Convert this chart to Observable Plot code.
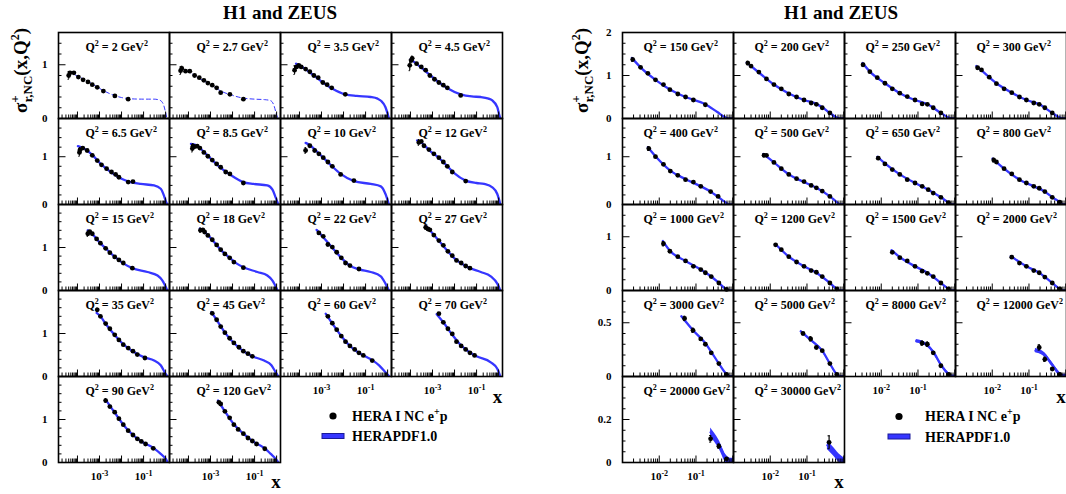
<!DOCTYPE html>
<html><head><meta charset="utf-8">
<script src="https://cdn.jsdelivr.net/npm/d3@7"></script>
<script src="https://cdn.jsdelivr.net/npm/@observablehq/plot@0.6"></script>
<style>
body{margin:0;background:#fff;}
#root{position:relative;width:1066px;height:494px;overflow:hidden;font-family:"Liberation Serif","Times New Roman",serif;font-weight:bold;}
#root .panel{position:absolute;}
#overlay{position:absolute;left:0;top:0;pointer-events:none;}
</style></head><body><div id="root"></div>
<script>
// ---------------- data ----------------
const leftQ2 = [2, 2.7, 3.5, 4.5, 6.5, 8.5, 10, 12, 15, 18, 22, 27, 35, 45, 60, 70, 90, 120];
const rightQ2 = [150, 200, 250, 300, 400, 500, 650, 800, 1000, 1200, 1500, 2000, 3000, 5000, 8000, 12000, 20000, 30000];
const leftRowYMax = [1.6, 1.8, 2, 2, 2];
const rightRowYMax = [2, 1.8, 1.6, 0.8, 0.4];
const leftRowYMajor = [[0, 1], [0, 1], [0, 1], [0, 1], [0, 1]];
const rightRowYMajor = [[0, 1, 2], [0, 1], [0, 1], [0, 0.5], [0, 0.2]];
const leftRowYMinorStep = [0.2, 0.2, 0.2, 0.2, 0.2];
const rightRowYMinorStep = [0.25, 0.2, 0.2, 0.1, 0.05];
const leftXDomain = [1.38e-5, 1.5];
const rightXDomain = [1e-3, 1.05];
const leftXTickLabels = [1e-3, 1e-1];
const rightXTickLabels = [1e-2, 1e-1];
const dashedQ2 = [2, 2.7];
// HERA I NC e+p measurements: [Q2, x, sigma_r, error]
const heraPoints = [
 [2,4.0e-5,0.80,0.07],[2,4.6e-5,0.85,0],[2,6.9e-5,0.85,0],[2,1.1e-4,0.77,0],[2,1.8e-4,0.72,0],[2,3.0e-4,0.68,0],[2,4.7e-4,0.63,0],[2,7.9e-4,0.58,0],[2,1.5e-3,0.51,0],[2,5.0e-3,0.42,0],[2,2.0e-2,0.36,0],
 [2.7,4.4e-5,0.89,0.07],[2.7,5.0e-5,0.93,0.04],[2.7,7.4e-5,0.88,0],[2.7,1.15e-4,0.88,0],[2.7,1.9e-4,0.80,0],[2.7,3.1e-4,0.76,0],[2.7,5.0e-4,0.71,0],[2.7,7.6e-4,0.66,0],[2.7,1.2e-3,0.62,0],[2.7,1.9e-3,0.57,0],[2.7,2.9e-3,0.48,0],[2.7,7.6e-3,0.45,0],[2.7,3.1e-2,0.36,0],
 [3.5,6.0e-5,0.90,0.08],[3.5,7.4e-5,0.96,0],[3.5,9.3e-5,0.99,0],[3.5,1.2e-4,0.96,0],[3.5,1.9e-4,0.92,0],[3.5,2.95e-4,0.87,0],[3.5,4.5e-4,0.80,0],[3.5,7.1e-4,0.76,0],[3.5,1.15e-3,0.67,0],[3.5,1.8e-3,0.63,0],[3.5,2.9e-3,0.57,0],[3.5,1.2e-2,0.45,0],
 [4.5,9.3e-5,0.99,0.10],[4.5,1.1e-4,1.08,0.04],[4.5,1.2e-4,1.12,0.04],[4.5,1.9e-4,1.02,0],[4.5,3.1e-4,0.96,0],[4.5,4.9e-4,0.90,0],[4.5,7.6e-4,0.80,0],[4.5,1.23e-3,0.73,0],[4.5,1.95e-3,0.67,0],[4.5,3.1e-3,0.62,0],[4.5,4.7e-3,0.57,0],[4.5,1.9e-2,0.43,0],
 [6.5,1.23e-4,1.09,0.08],[6.5,1.3e-4,1.14,0.05],[6.5,1.74e-4,1.18,0],[6.5,2.75e-4,1.13,0],[6.5,4.7e-4,1.03,0],[6.5,7.9e-4,0.92,0],[6.5,1.23e-3,0.83,0],[6.5,2.1e-3,0.75,0],[6.5,3.5e-3,0.68,0],[6.5,5.4e-3,0.63,0],[6.5,7.6e-3,0.57,0],[6.5,2.0e-2,0.47,0],[6.5,3.3e-2,0.48,0],
 [8.5,1.5e-4,1.17,0.07],[8.5,1.6e-4,1.22,0.05],[8.5,1.9e-4,1.21,0],[8.5,2.5e-4,1.22,0],[8.5,3.3e-4,1.18,0],[8.5,5.0e-4,1.09,0],[8.5,7.6e-4,1.01,0],[8.5,1.2e-3,0.93,0],[8.5,1.9e-3,0.85,0],[8.5,2.9e-3,0.78,0],[8.5,4.9e-3,0.68,0],[8.5,7.6e-3,0.64,0],[8.5,3.1e-2,0.45,0],
 [10,1.9e-4,1.13,0.06],[10,2.95e-4,1.23,0],[10,4.9e-4,1.13,0],[10,7.6e-4,1.06,0],[10,1.2e-3,0.98,0],[10,1.95e-3,0.89,0],[10,3.1e-3,0.80,0],[10,7.4e-3,0.63,0],[10,2.95e-2,0.50,0],
 [12,2.4e-4,1.30,0.06],[12,3.1e-4,1.32,0],[12,4.1e-4,1.23,0],[12,6.9e-4,1.15,0],[12,1.15e-3,1.06,0],[12,1.95e-3,0.98,0],[12,3.1e-3,0.89,0],[12,4.7e-3,0.80,0],[12,7.9e-3,0.68,0],[12,3.2e-2,0.49,0],
 [15,2.95e-4,1.32,0.06],[15,3.6e-4,1.37,0],[15,4.7e-4,1.32,0],[15,7.4e-4,1.20,0],[15,1.1e-3,1.10,0],[15,1.9e-3,0.98,0],[15,2.95e-3,0.88,0],[15,4.9e-3,0.78,0],[15,7.6e-3,0.71,0],[15,1.2e-2,0.64,0],[15,3.1e-2,0.52,0],
 [18,3.5e-4,1.40,0.05],[18,4.5e-4,1.41,0],[18,5.4e-4,1.36,0],[18,7.6e-4,1.28,0],[18,1.2e-3,1.18,0],[18,1.9e-3,1.06,0],[18,2.9e-3,0.95,0],[18,4.5e-3,0.85,0],[18,7.4e-3,0.76,0],[18,1.15e-2,0.66,0],[18,3.1e-2,0.53,0],
 [22,7.6e-4,1.34,0],[22,1.2e-3,1.26,0],[22,1.95e-3,1.07,0],[22,3.1e-3,1.01,0],[22,4.9e-3,0.89,0],[22,7.9e-3,0.76,0],[22,1.23e-2,0.64,0],[22,1.95e-2,0.58,0],[22,5.0e-2,0.50,0],
 [27,4.9e-4,1.47,0.05],[27,6.2e-4,1.43,0],[27,7.6e-4,1.41,0],[27,1.15e-3,1.29,0],[27,1.95e-3,1.16,0],[27,3.1e-3,1.05,0],[27,5.0e-3,0.91,0],[27,7.9e-3,0.81,0],[27,1.23e-2,0.70,0],[27,2.0e-2,0.64,0],[27,3.2e-2,0.57,0],[27,5.0e-2,0.52,0],
 [35,7.9e-4,1.55,0.04],[35,1.1e-3,1.40,0],[35,1.9e-3,1.23,0],[35,2.95e-3,1.11,0],[35,4.9e-3,0.97,0],[35,7.6e-3,0.85,0],[35,1.2e-2,0.74,0],[35,2.0e-2,0.66,0],[35,3.3e-2,0.59,0],[35,5.2e-2,0.51,0],[35,0.115,0.43,0],
 [45,1.2e-3,1.47,0],[45,1.9e-3,1.32,0],[45,2.9e-3,1.16,0],[45,4.5e-3,1.02,0],[45,7.4e-3,0.89,0],[45,1.15e-2,0.78,0],[45,1.95e-2,0.68,0],[45,3.1e-2,0.59,0],[45,5.0e-2,0.53,0],[45,7.9e-2,0.47,0],
 [60,1.95e-3,1.40,0],[60,3.1e-3,1.24,0],[60,4.9e-3,1.09,0],[60,7.9e-3,0.94,0],[60,1.23e-2,0.81,0],[60,1.95e-2,0.71,0],[60,3.2e-2,0.63,0],[60,5.0e-2,0.55,0],[60,7.9e-2,0.49,0],[60,0.2,0.37,0],
 [70,1.95e-3,1.46,0],[70,3.1e-3,1.26,0],[70,5.0e-3,1.11,0],[70,7.9e-3,0.99,0],[70,1.23e-2,0.81,0],[70,2.0e-2,0.71,0],[70,3.2e-2,0.63,0],[70,5.0e-2,0.55,0],[70,8.1e-2,0.49,0],
 [90,1.9e-3,1.44,0.04],[90,2.95e-3,1.30,0],[90,4.9e-3,1.17,0],[90,7.6e-3,1.02,0],[90,1.2e-2,0.88,0],[90,2.0e-2,0.74,0],[90,3.3e-2,0.64,0],[90,5.2e-2,0.55,0],[90,7.9e-2,0.49,0],[90,0.123,0.43,0],[90,0.275,0.33,0],
 [120,2.4e-3,1.40,0],[120,2.9e-3,1.36,0],[120,4.5e-3,1.19,0],[120,7.4e-3,1.04,0],[120,1.15e-2,0.88,0],[120,1.8e-2,0.77,0],[120,3.1e-2,0.67,0],[120,5.0e-2,0.57,0],[120,7.9e-2,0.50,0],[120,0.123,0.43,0],[120,0.29,0.32,0],
 [150,1.9e-3,1.37,0.04],[150,3.1e-3,1.19,0],[150,4.9e-3,1.05,0],[150,7.9e-3,0.90,0],[150,1.3e-2,0.79,0],[150,1.95e-2,0.67,0],[150,3.2e-2,0.57,0],[150,5.2e-2,0.50,0],[150,8.5e-2,0.43,0],[150,0.18,0.32,0],
 [200,2.45e-3,1.29,0.04],[200,3.0e-3,1.22,0],[200,4.9e-3,1.08,0],[200,7.9e-3,0.92,0],[200,1.26e-2,0.79,0],[200,2.0e-2,0.69,0],[200,3.2e-2,0.57,0],[200,5.2e-2,0.50,0],[200,8.3e-2,0.43,0],[200,0.13,0.36,0],[200,0.18,0.33,0],[200,0.26,0.25,0],[200,0.42,0.13,0],
 [250,3.2e-3,1.25,0.03],[250,4.9e-3,1.09,0],[250,7.8e-3,0.95,0],[250,1.26e-2,0.82,0],[250,2.0e-2,0.69,0],[250,3.2e-2,0.59,0],[250,5.1e-2,0.51,0],[250,8.3e-2,0.43,0],[250,0.13,0.34,0],[250,0.18,0.33,0],[250,0.26,0.25,0],[250,0.42,0.13,0],
 [300,4.0e-3,1.18,0.03],[300,5.1e-3,1.13,0],[300,8.3e-3,0.96,0],[300,1.3e-2,0.81,0],[300,2.1e-2,0.69,0],[300,3.4e-2,0.60,0],[300,5.5e-2,0.50,0],[300,8.5e-2,0.43,0],[300,0.135,0.36,0],[300,0.19,0.33,0],[300,0.27,0.25,0],[300,0.43,0.13,0],
 [400,5.2e-3,1.17,0.04],[400,7.9e-3,1.00,0],[400,1.3e-2,0.84,0],[400,2.0e-2,0.70,0],[400,3.2e-2,0.61,0],[400,5.2e-2,0.52,0],[400,8.5e-2,0.47,0],[400,0.135,0.38,0],[400,0.25,0.27,0],[400,0.40,0.17,0],
 [500,6.8e-3,1.03,0.03],[500,7.9e-3,1.03,0],[500,1.26e-2,0.88,0],[500,2.0e-2,0.75,0],[500,3.2e-2,0.63,0],[500,5.2e-2,0.54,0],[500,8.3e-2,0.48,0],[500,0.13,0.40,0],[500,0.18,0.35,0],[500,0.26,0.28,0],[500,0.42,0.17,0],
 [650,8.3e-3,0.97,0.03],[650,1.26e-2,0.85,0],[650,2.0e-2,0.73,0],[650,3.2e-2,0.63,0],[650,5.1e-2,0.52,0],[650,8.3e-2,0.45,0],[650,0.13,0.38,0],[650,0.19,0.31,0],[650,0.26,0.24,0],[650,0.42,0.15,0],[650,0.68,0.04,0],
 [800,1.1e-2,0.93,0.04],[800,1.3e-2,0.89,0],[800,2.1e-2,0.75,0],[800,3.4e-2,0.64,0],[800,5.5e-2,0.52,0],[800,8.5e-2,0.45,0],[800,0.135,0.38,0],[800,0.19,0.34,0],[800,0.27,0.27,0],[800,0.43,0.15,0],[800,0.69,0.05,0],
 [1000,1.3e-2,0.87,0.04],[1000,1.95e-2,0.73,0],[1000,3.2e-2,0.63,0],[1000,5.2e-2,0.55,0],[1000,8.5e-2,0.45,0],[1000,0.135,0.39,0],[1000,0.18,0.33,0],[1000,0.26,0.26,0],[1000,0.42,0.14,0],[1000,0.68,0.02,0],
 [1200,1.4e-2,0.85,0],[1200,2.0e-2,0.76,0],[1200,3.2e-2,0.63,0],[1200,5.2e-2,0.53,0],[1200,8.3e-2,0.45,0],[1200,0.13,0.37,0],[1200,0.18,0.34,0],[1200,0.26,0.26,0],[1200,0.42,0.14,0],[1200,0.65,0.03,0],
 [1500,2.0e-2,0.71,0],[1500,3.2e-2,0.61,0],[1500,5.1e-2,0.55,0],[1500,8.3e-2,0.45,0],[1500,0.13,0.36,0],[1500,0.18,0.32,0],[1500,0.26,0.26,0],[1500,0.42,0.14,0],[1500,0.68,0.03,0],
 [2000,3.4e-2,0.62,0],[2000,5.5e-2,0.51,0],[2000,8.5e-2,0.45,0],[2000,0.135,0.37,0],[2000,0.19,0.33,0],[2000,0.27,0.25,0],[2000,0.43,0.14,0],[2000,0.69,0.03,0],
 [3000,4.9e-2,0.54,0.02],[3000,8.3e-2,0.43,0.02],[3000,0.135,0.35,0],[3000,0.18,0.30,0],[3000,0.26,0.22,0],[3000,0.42,0.12,0],[3000,0.68,0.02,0],
 [5000,7.8e-2,0.40,0],[5000,0.126,0.35,0.02],[5000,0.18,0.27,0],[5000,0.26,0.24,0],[5000,0.42,0.12,0],[5000,0.65,0.02,0],
 [8000,0.13,0.31,0.02],[8000,0.18,0.30,0.02],[8000,0.26,0.22,0],[8000,0.42,0.10,0],[8000,0.69,0.02,0],
 [12000,0.19,0.27,0.025],[12000,0.27,0.16,0.02],[12000,0.43,0.07,0],[12000,0.69,0.02,0],
 [20000,0.25,0.11,0.015],[20000,0.42,0.076,0.01],[20000,0.68,0.017,0],
 [30000,0.40,0.094,0.03]
];
// HERAPDF1.0 prediction: [Q2, x, sigma_r]
const herapdfCurve = [
 [2,4e-5,0.87],[2,1e-4,0.79],[2,3e-4,0.69],[2,1e-3,0.56],[2,3e-3,0.46],[2,1e-2,0.39],[2,3e-2,0.365],[2,0.1,0.36],[2,0.3,0.36],[2,0.55,0.34],[2,0.78,0.27],[2,0.95,0.15],[2,1.15,0],
 [2.7,4.4e-5,0.95],[2.7,1e-4,0.87],[2.7,3e-4,0.75],[2.7,1e-3,0.63],[2.7,3e-3,0.51],[2.7,1e-2,0.43],[2.7,3e-2,0.38],[2.7,0.1,0.36],[2.7,0.3,0.35],[2.7,0.55,0.33],[2.7,0.76,0.24],[2.7,0.95,0.1],[2.7,1.15,0],
 [3.5,7e-5,1.02],[3.5,1e-4,0.99],[3.5,2e-4,0.91],[3.5,4.5e-4,0.80],[3.5,1.15e-3,0.67],[3.5,3e-3,0.56],[3.5,1.2e-2,0.45],[3.5,4e-2,0.42],[3.5,0.17,0.40],[3.5,0.35,0.37],[3.5,0.5,0.33],[3.5,0.8,0.21],[3.5,1.0,0.09],[3.5,1.15,0],
 [4.5,1e-4,1.10],[4.5,1.5e-4,1.05],[4.5,3e-4,0.95],[4.5,7.6e-4,0.81],[4.5,2e-3,0.67],[4.5,5e-3,0.56],[4.5,1.9e-2,0.45],[4.5,6e-2,0.41],[4.5,0.155,0.40],[4.5,0.35,0.37],[4.5,0.5,0.34],[4.5,0.87,0.21],[4.5,1.05,0.08],[4.5,1.2,0],
 [6.5,1.05e-4,1.22],[6.5,2e-4,1.17],[6.5,4.7e-4,1.04],[6.5,1.2e-3,0.84],[6.5,3.5e-3,0.67],[6.5,1e-2,0.54],[6.5,2.5e-2,0.47],[6.5,7.4e-2,0.43],[6.5,0.3,0.40],[6.5,0.6,0.33],[6.5,0.85,0.18],[6.5,1.0,0.08],[6.5,1.2,0],
 [8.5,1.3e-4,1.27],[8.5,2.5e-4,1.23],[8.5,5e-4,1.10],[8.5,1.2e-3,0.93],[8.5,3e-3,0.76],[8.5,8e-3,0.62],[8.5,3e-2,0.47],[8.5,9e-2,0.43],[8.5,0.38,0.40],[8.5,0.65,0.31],[8.5,0.9,0.15],[8.5,1.2,0],
 [10,1.9e-4,1.29],[10,3e-4,1.24],[10,5e-4,1.15],[10,1.2e-3,0.98],[10,3e-3,0.80],[10,7.4e-3,0.64],[10,3e-2,0.49],[10,0.17,0.43],[10,0.49,0.38],[10,0.8,0.22],[10,1.15,0],
 [12,2e-4,1.34],[12,3e-4,1.30],[12,7e-4,1.14],[12,2e-3,0.97],[12,5e-3,0.79],[12,1e-2,0.65],[12,3.2e-2,0.50],[12,0.1,0.45],[12,0.22,0.43],[12,0.52,0.36],[12,0.87,0.22],[12,1.2,0],
 [15,2.95e-4,1.40],[15,5e-4,1.30],[15,1e-3,1.12],[15,2e-3,0.97],[15,5e-3,0.78],[15,1.2e-2,0.63],[15,3.1e-2,0.52],[15,0.15,0.43],[15,0.43,0.35],[15,0.72,0.23],[15,1.2,0],
 [18,3.3e-4,1.44],[18,6e-4,1.34],[18,1.2e-3,1.18],[18,3e-3,0.94],[18,7.4e-3,0.76],[18,1.5e-2,0.63],[18,3.1e-2,0.54],[18,0.135,0.43],[18,0.38,0.35],[18,0.65,0.23],[18,1.1,0],
 [22,6e-4,1.41],[22,1.2e-3,1.24],[22,3e-3,1.0],[22,7.9e-3,0.76],[22,1.9e-2,0.58],[22,5e-2,0.49],[22,0.17,0.43],[22,0.49,0.33],[22,0.8,0.16],[22,1.15,0],
 [27,4.9e-4,1.51],[27,1e-3,1.33],[27,2e-3,1.15],[27,5e-3,0.91],[27,1.2e-2,0.71],[27,3.2e-2,0.57],[27,5e-2,0.52],[27,0.155,0.43],[27,0.44,0.33],[27,0.87,0.16],[27,1.2,0],
 [35,7.4e-4,1.48],[35,1.1e-3,1.40],[35,2e-3,1.21],[35,5e-3,0.96],[35,1.2e-2,0.75],[35,3.3e-2,0.58],[35,0.115,0.44],[35,0.3,0.37],[35,0.6,0.26],[35,1.0,0.06],[35,1.2,0],
 [45,1.1e-3,1.50],[45,2e-3,1.30],[45,4.5e-3,1.02],[45,1.15e-2,0.78],[45,3.1e-2,0.59],[45,7.9e-2,0.47],[45,0.27,0.37],[45,0.58,0.26],[45,0.9,0.10],[45,1.2,0],
 [60,1.55e-3,1.46],[60,3.1e-3,1.23],[60,7.9e-3,0.94],[60,1.95e-2,0.71],[60,5e-2,0.55],[60,0.2,0.38],[60,0.41,0.26],[60,0.8,0.10],[60,1.2,0],
 [70,1.55e-3,1.45],[70,3.1e-3,1.26],[70,7.9e-3,0.97],[70,2e-2,0.72],[70,5e-2,0.56],[70,0.1,0.47],[70,0.44,0.33],[70,0.87,0.18],[70,1.2,0],
 [90,1.9e-3,1.46],[90,4.9e-3,1.16],[90,1.2e-2,0.88],[90,3.3e-2,0.64],[90,8e-2,0.49],[90,0.275,0.34],[90,0.6,0.20],[90,1.0,0.09],[90,1.25,0],
 [120,2.2e-3,1.44],[120,4.5e-3,1.19],[120,1.15e-2,0.89],[120,3.1e-2,0.67],[120,8e-2,0.50],[120,0.29,0.33],[120,0.54,0.20],[120,0.9,0.09],[120,1.2,0],
 [150,1.8e-3,1.41],[150,3.1e-3,1.19],[150,7.9e-3,0.90],[150,2e-2,0.67],[150,5.2e-2,0.50],[150,0.18,0.33],[150,0.38,0.15],[150,0.65,0.02],[150,0.8,0],[150,1.05,0],
 [200,2.3e-3,1.30],[200,4.9e-3,1.07],[200,1.26e-2,0.79],[200,3.2e-2,0.58],[200,8.3e-2,0.43],[200,0.18,0.34],[200,0.26,0.26],[200,0.42,0.13],[200,0.65,0.02],[200,0.8,0],[200,1.05,0],
 [250,3.1e-3,1.29],[250,4.9e-3,1.09],[250,1.26e-2,0.82],[250,3.2e-2,0.59],[250,8.3e-2,0.43],[250,0.18,0.33],[250,0.42,0.13],[250,0.65,0.03],[250,0.8,0],[250,1.05,0],
 [300,3.7e-3,1.22],[300,5.1e-3,1.12],[300,1.3e-2,0.82],[300,3.4e-2,0.60],[300,8.5e-2,0.43],[300,0.19,0.33],[300,0.43,0.13],[300,0.69,0.02],[300,0.82,0],[300,1.05,0],
 [400,4.9e-3,1.20],[400,7.9e-3,1.01],[400,2e-2,0.71],[400,5.2e-2,0.53],[400,0.135,0.38],[400,0.25,0.27],[400,0.4,0.16],[400,0.6,0.06],[400,0.8,0],[400,1.05,0],
 [500,6.5e-3,1.06],[500,1.26e-2,0.88],[500,3.2e-2,0.63],[500,8.3e-2,0.47],[500,0.18,0.35],[500,0.42,0.17],[500,0.65,0.05],[500,0.8,0],[500,1.05,0],
 [650,7.9e-3,1.0],[650,1.26e-2,0.86],[650,3.2e-2,0.63],[650,8.3e-2,0.45],[650,0.19,0.31],[650,0.42,0.15],[650,0.68,0.04],[650,0.82,0],[650,1.05,0],
 [800,1.02e-2,0.96],[800,2.1e-2,0.75],[800,5.5e-2,0.52],[800,0.135,0.38],[800,0.27,0.27],[800,0.43,0.15],[800,0.69,0.05],[800,0.84,0],[800,1.05,0],
 [1000,1.26e-2,0.92],[1000,1.95e-2,0.74],[1000,5.2e-2,0.55],[1000,0.135,0.39],[1000,0.26,0.26],[1000,0.42,0.14],[1000,0.68,0.02],[1000,0.8,0],[1000,1.05,0],
 [1200,1.4e-2,0.86],[1200,3.2e-2,0.63],[1200,8.3e-2,0.45],[1200,0.18,0.33],[1200,0.42,0.14],[1200,0.65,0.03],[1200,0.8,0],[1200,1.05,0],
 [1500,1.9e-2,0.75],[1500,3.2e-2,0.62],[1500,8.3e-2,0.45],[1500,0.18,0.33],[1500,0.42,0.14],[1500,0.68,0.03],[1500,0.82,0],[1500,1.05,0],
 [2000,3.2e-2,0.64],[2000,8.5e-2,0.45],[2000,0.19,0.33],[2000,0.43,0.14],[2000,0.69,0.03],[2000,0.82,0],[2000,1.05,0],
 [3000,4e-2,0.56],[3000,8.3e-2,0.43],[3000,0.18,0.31],[3000,0.26,0.23],[3000,0.42,0.12],[3000,0.68,0.02],[3000,0.8,0],[3000,1.05,0],
 [5000,6.8e-2,0.42],[5000,0.126,0.34],[5000,0.26,0.24],[5000,0.42,0.12],[5000,0.65,0.02],[5000,0.8,0],[5000,1.05,0],
 [8000,9e-2,0.33],[8000,0.18,0.29],[8000,0.26,0.23],[8000,0.42,0.11],[8000,0.69,0.02],[8000,0.82,0],[8000,1.05,0],
 [12000,0.15,0.24],[12000,0.27,0.20],[12000,0.43,0.11],[12000,0.69,0.02],[12000,0.82,0],[12000,1.05,0],
 [20000,0.25,0.14],[20000,0.42,0.085],[20000,0.68,0.012],[20000,0.85,0],[20000,1.05,0],
 [30000,0.36,0.08],[30000,0.5,0.055],[30000,0.75,0.02],[30000,1.05,0]
];
// visible half-width of the HERAPDF1.0 uncertainty band: [Q2, halfWidth]
const bandHalfWidth = [[3000,0.008],[5000,0.01],[8000,0.015],[12000,0.02],[20000,0.02],[30000,0.02]];

// ---------------- drawing ----------------
const BLUE = "#3636ff";
const FONT = '"Liberation Serif","Times New Roman",serif';
const root = document.getElementById("root");
const NS = "http://www.w3.org/2000/svg";
const PW = 111, PH = 86;

function logTicks(domain) {
  const major = [], minor = [];
  for (let e = -6; e <= 1; e++) {
    for (let m = 1; m <= 9; m++) {
      const v = +(m * Math.pow(10, e)).toPrecision(6);
      if (v < domain[0] * 0.999 || v > domain[1] * 1.001) continue;
      (m === 1 ? major : minor).push(v);
    }
  }
  return {major, minor};
}

function span(t, s, attrs) {
  const e = document.createElementNS(NS, "tspan"); e.textContent = s;
  for (const k in attrs) e.setAttribute(k, attrs[k]); t.appendChild(e); return e;
}

// turn "10^-3" tick labels and "Q² = … GeV²" panel labels into raised superscripts
function superscripts(svg) {
  svg.querySelectorAll("text").forEach(t => {
    const s = t.textContent;
    let m = /^10\^(-?\d+)$/.exec(s);
    if (m) {
      t.textContent = "";
      span(t, "10", {});
      span(t, m[1], {dy: -4.5, "font-size": 8});
      return;
    }
    m = /^Q² = (.+) GeV²$/.exec(s);
    if (m) {
      t.textContent = "";
      span(t, "Q", {});
      span(t, "2", {dy: -5, "font-size": 8});
      span(t, ` = ${m[1]} GeV`, {dy: 5});
      span(t, "2", {dy: -5, "font-size": 8});
    }
  });
}

function drawPanel(isLeft, idx) {
  const q2 = (isLeft ? leftQ2 : rightQ2)[idx];
  const col = idx % 4, row = Math.floor(idx / 4);
  const n = (isLeft ? leftQ2 : rightQ2).length;
  const lastInColumn = idx + 4 >= n;
  const yMax = (isLeft ? leftRowYMax : rightRowYMax)[row];
  const yMajor = (isLeft ? leftRowYMajor : rightRowYMajor)[row];
  const yStep = (isLeft ? leftRowYMinorStep : rightRowYMinorStep)[row];
  const yMinor = d3.range(1, Math.round(yMax / yStep)).map(i => +(i * yStep).toFixed(3)).filter(v => !yMajor.includes(v));
  const xDomain = isLeft ? leftXDomain : rightXDomain;
  const {major: xMajor, minor: xMinor} = logTicks(xDomain);
  const pts = heraPoints.filter(d => d[0] === q2);
  const crv = herapdfCurve.filter(d => d[0] === q2);
  const hwRow = bandHalfWidth.find(d => d[0] === q2);
  const hw = hwRow ? hwRow[1] : 0;
  const dashed = dashedQ2.includes(q2);
  const errPts = pts.filter(d => d[3] > 0);

  const marks = [];
  if (hw > 0) marks.push(Plot.areaY(crv, {x: d => d[1], y1: d => d[2] - hw, y2: d => d[2] + hw, fill: BLUE, curve: "monotone-x", clip: true}));
  marks.push(Plot.line(crv, {x: d => d[1], y: d => d[2], stroke: BLUE, strokeWidth: dashed ? 1 : 2.3,
    strokeDasharray: dashed ? "4,3" : null, curve: "monotone-x", clip: true}));
  marks.push(Plot.ruleX(errPts, {x: d => d[1], y1: d => d[2] - d[3], y2: d => d[2] + d[3], stroke: "black", strokeWidth: 1.2}));
  marks.push(Plot.ruleY(errPts, {y: d => d[2] - d[3], x1: d => d[1] / 1.07, x2: d => d[1] * 1.07, stroke: "black", strokeWidth: 1}));
  marks.push(Plot.ruleY(errPts, {y: d => d[2] + d[3], x1: d => d[1] / 1.07, x2: d => d[1] * 1.07, stroke: "black", strokeWidth: 1}));
  marks.push(Plot.dot(pts, {x: d => d[1], y: d => d[2], r: 2.4, fill: "black", stroke: "none"}));
  marks.push(Plot.text([`Q² = ${q2} GeV²`], {text: d => d, frameAnchor: "top-left", dx: isLeft ? 27 : 21, dy: 10,
    textAnchor: "start", lineAnchor: "top", fontSize: 12, fontWeight: "bold", fontFamily: FONT}));
  // x ticks (inward)
  marks.push(Plot.axisX(xMajor, {anchor: "bottom", tickSize: -6.5, fill: "none", tickFormat: () => "", label: null, strokeWidth: 1}));
  marks.push(Plot.axisX(xMinor, {anchor: "bottom", tickSize: -3.5, fill: "none", tickFormat: () => "", label: null, strokeWidth: 1}));
  if (lastInColumn) {
    marks.push(Plot.axisX(isLeft ? leftXTickLabels : rightXTickLabels, {anchor: "bottom", tickSize: 0, tickPadding: 10,
      tickFormat: d => "10^" + Math.round(Math.log10(d)), label: null, fontSize: 11, fontWeight: "bold", fontFamily: FONT}));
  }
  // y ticks (inward)
  marks.push(Plot.axisY(yMajor.filter(v => v > 0 && v < yMax), {anchor: "left", tickSize: -7.5, fill: "none", tickFormat: () => "", label: null, strokeWidth: 1}));
  marks.push(Plot.axisY(yMinor, {anchor: "left", tickSize: -3.5, fill: "none", tickFormat: () => "", label: null, strokeWidth: 1}));
  if (col === 0) {
    marks.push(Plot.axisY(yMajor, {anchor: "left", tickSize: 0, tickPadding: 11, tickFormat: d => String(d), label: null,
      fontSize: 11, fontWeight: "bold", fontFamily: FONT}));
  }
  marks.push(Plot.frame({stroke: "black", strokeWidth: 1.6}));

  const svg = Plot.plot({
    width: PW, height: PH, margin: 0,
    x: {type: "log", domain: xDomain},
    y: {domain: [0, yMax]},
    style: {overflow: "visible", background: "transparent", fontFamily: FONT, fontWeight: "bold", fontSize: "11px"},
    marks
  });
  superscripts(svg);
  const wrap = document.createElement("div");
  wrap.className = "panel";
  wrap.style.left = ((isLeft ? 58 : 622) + col * PW) + "px";
  wrap.style.top = (32 + row * PH) + "px";
  wrap.appendChild(svg);
  root.appendChild(wrap);
}

leftQ2.forEach((q, i) => drawPanel(true, i));
rightQ2.forEach((q, i) => drawPanel(false, i));

// ---------------- titles, axis titles, legends ----------------
const ov = document.createElementNS(NS, "svg");
ov.setAttribute("id", "overlay"); ov.setAttribute("width", 1066); ov.setAttribute("height", 494);
ov.setAttribute("font-family", FONT); ov.setAttribute("font-weight", "bold");
function txt(x, y, s, size, anchor = "middle", parent = ov) {
  const t = document.createElementNS(NS, "text");
  t.setAttribute("x", x); t.setAttribute("y", y); t.setAttribute("font-size", size);
  t.setAttribute("text-anchor", anchor); t.textContent = s; parent.appendChild(t); return t;
}
txt(280, 19, "H1 and ZEUS", 19);
txt(841, 19, "H1 and ZEUS", 19);
function yTitle(x, y) {
  const t = document.createElementNS(NS, "text");
  t.setAttribute("transform", `translate(${x},${y}) rotate(-90)`);
  t.setAttribute("font-size", 19);
  span(t, "σ", {});
  span(t, "+", {dy: -8, "font-size": 13});
  span(t, "r,NC", {dx: -7, dy: 13, "font-size": 13});
  span(t, "(x,Q", {dy: -5});
  span(t, "2", {dy: -8, "font-size": 12});
  span(t, ")", {dy: 8});
  ov.appendChild(t);
}
yTitle(27, 113);
yTitle(588, 113);
txt(276, 488, "x", 19); txt(497.5, 402.5, "x", 19);
txt(839, 488, "x", 19); txt(1061, 402.5, "x", 19);
function legend(dotX, textX, y0) {
  const c = document.createElementNS(NS, "circle");
  c.setAttribute("cx", dotX); c.setAttribute("cy", y0); c.setAttribute("r", 3.6); c.setAttribute("fill", "black");
  ov.appendChild(c);
  const t = txt(textX, y0 + 4.5, "HERA I NC e", 14, "start");
  span(t, "+", {dy: -6, "font-size": 10}); span(t, "p", {dy: 6});
  const r = document.createElementNS(NS, "rect");
  r.setAttribute("x", dotX - 11); r.setAttribute("y", y0 + 17.5); r.setAttribute("width", 22); r.setAttribute("height", 5);
  r.setAttribute("fill", BLUE); r.setAttribute("stroke", "#1a1a9a"); r.setAttribute("stroke-width", 1);
  ov.appendChild(r);
  txt(textX, y0 + 25, "HERAPDF1.0", 14, "start");
}
legend(333, 352, 416);
legend(899, 925, 416.5);
root.appendChild(ov);
</script>
</body></html>
